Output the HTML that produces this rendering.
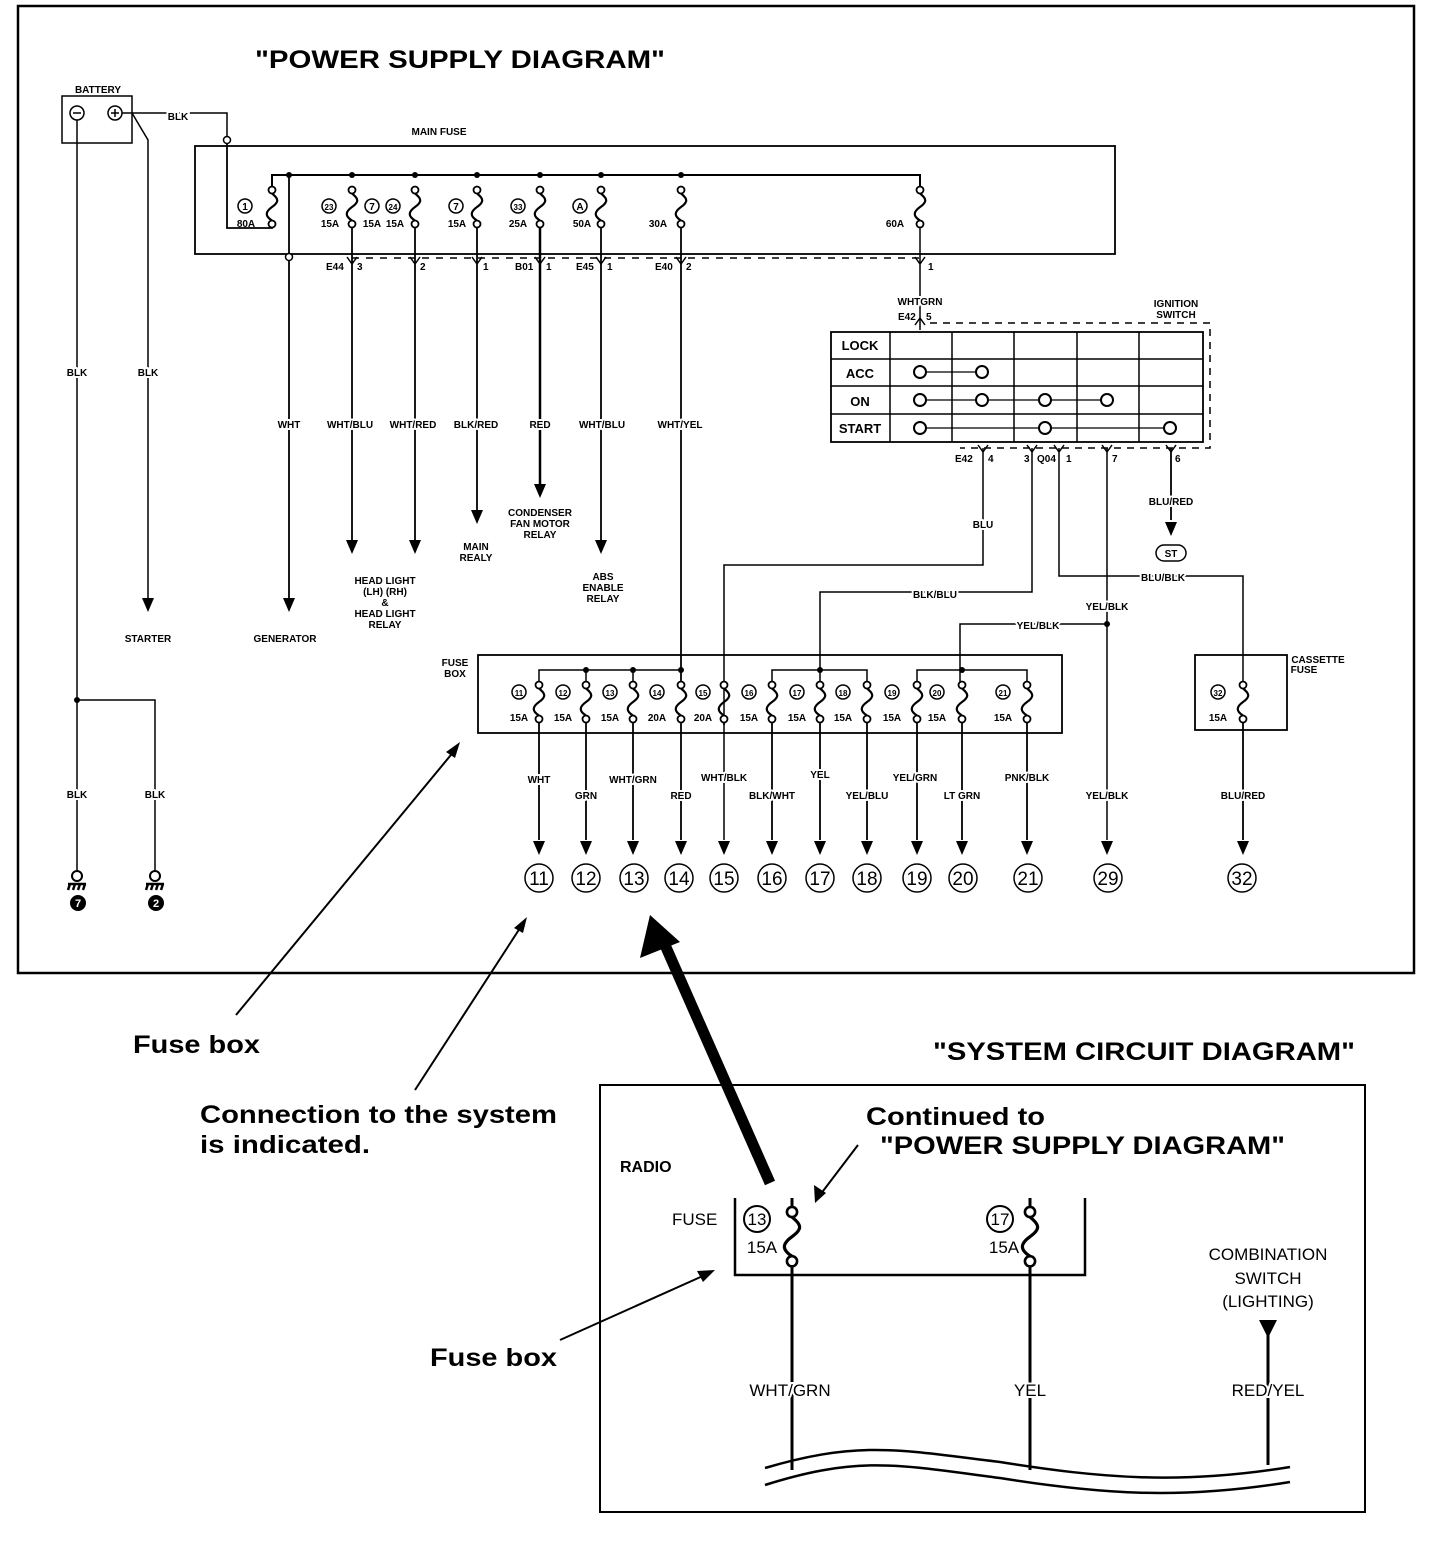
<!DOCTYPE html>
<html><head><meta charset="utf-8"><style>
html,body{margin:0;padding:0;background:#fff}
svg{display:block}
text{font-family:"Liberation Sans",Arial,sans-serif;fill:#000}
.s{font-size:10px;font-weight:bold}
.h text{stroke:#fff;stroke-width:4px;paint-order:stroke;stroke-linejoin:round}
.m{font-size:13px;font-weight:bold}
.b{font-size:25px;font-weight:bold}
.n{font-size:19px}
</style></head><body>
<svg width="1440" height="1566" viewBox="0 0 1440 1566" xmlns="http://www.w3.org/2000/svg">
<defs>
<g id="fz"><circle cx="0" cy="0" r="3.5" fill="#fff" stroke="#000" stroke-width="1.8"/><path d="M0,3.5 C7,9 7,12 0,17 C-7,22 -7,26 0,30.5" fill="none" stroke="#000" stroke-width="2.2"/><circle cx="0" cy="34" r="3.5" fill="#fff" stroke="#000" stroke-width="1.8"/></g>
<g id="ar"><path d="M-6,-14 L6,-14 L0,0 Z" fill="#000"/></g>
<g id="cn"><path d="M-5,-5 L0,2 L5,-5" fill="none" stroke="#000" stroke-width="1.5"/></g>
<g id="cu"><path d="M-5,5 L0,-2 L5,5" fill="none" stroke="#000" stroke-width="1.5"/></g>
</defs>
<g stroke="#000" fill="none">
<rect x="18" y="6" width="1396" height="967" stroke-width="2.5"/>
<rect x="62" y="96" width="70" height="47" stroke-width="1.5"/>
<circle cx="77" cy="113" r="7" stroke-width="1.5"/><circle cx="115" cy="113" r="7" stroke-width="1.5"/>
<path d="M73,113 H81 M111,113 H119 M115,109 V117" stroke-width="1.5"/>
<path d="M122,113 H227 V140" stroke-width="1.5"/>
<circle cx="227" cy="140" r="3.5" stroke-width="1.5" fill="#fff"/>
<path d="M227,144 V228 H272 V224" stroke-width="1.8"/>
<path d="M132,113 L148,140 V598" stroke-width="1.5"/>
<path d="M77,120 V870" stroke-width="1.5"/>
<path d="M77,700 H155 V870" stroke-width="1.5"/>
<rect x="195" y="146" width="920" height="108" stroke-width="1.8"/>
<path d="M272,190 V175 H920 V190" stroke-width="2"/>
<path d="M352,258 H920" stroke-width="1.5" stroke-dasharray="7,7"/>
<path d="M289,175 V253" stroke-width="1.8"/>
<circle cx="289" cy="257" r="3.5" fill="#fff" stroke-width="1.5"/>
<path d="M289,261 V598" stroke-width="1.8"/>
<path d="M352,224 V540" stroke-width="1.8"/>
<path d="M415,224 V540" stroke-width="1.8"/>
<path d="M477,224 V510" stroke-width="1.8"/>
<path d="M540,224 V484" stroke-width="2.5"/>
<path d="M601,224 V540" stroke-width="1.8"/>
<path d="M681,224 V685" stroke-width="1.8"/>
<path d="M920,224 V330" stroke-width="1.5"/>
<rect x="831" y="332" width="372" height="110" stroke-width="1.8"/>
<path d="M831,359 H1203 M831,386 H1203 M831,414 H1203 M890,332 V442 M952,332 V442 M1014,332 V442 M1077,332 V442 M1139,332 V442" stroke-width="1.5"/>
<path d="M930,323 H1210 V448 H960" stroke-width="1.5" stroke-dasharray="7,6"/>
<path d="M920,372 H982 M920,400 H1107 M920,428 H1170" stroke-width="1.3"/>
<path d="M983,448 V565 H724 V840" stroke-width="1.5"/>
<path d="M1032,448 V592 H820 V685" stroke-width="1.5"/>
<path d="M1059,448 V576 H1243 V685" stroke-width="1.5"/>
<path d="M1107,448 V840" stroke-width="1.5"/>
<path d="M1107,624 H960 V685" stroke-width="1.5"/>
<path d="M1171,448 V520" stroke-width="1.8"/>
<rect x="1156" y="545" width="30" height="16" rx="8" stroke-width="1.5"/>
<rect x="478" y="655" width="584" height="78" stroke-width="1.8"/>
<rect x="1195" y="655" width="92" height="75" stroke-width="1.8"/>
<path d="M539,685 V670 H681 M772,685 V670 H867 V685 M917,685 V670 H1027 V685 M586,670 V685 M633,670 V685" stroke-width="1.5"/>
<path d="M539,719 V840 M586,719 V840 M633,719 V840 M681,719 V840 M772,719 V840 M820,719 V840 M867,719 V840 M917,719 V840 M962,719 V840 M1027,719 V840 M1243,719 V840 M724,719 V725" stroke-width="1.8"/>
<rect x="600" y="1085" width="765" height="427" stroke-width="2"/>
<path d="M735,1198 V1275 H1085 V1198" stroke-width="2.5"/>
<path d="M792,1198 V1210 M792,1260 V1470 M1030,1198 V1210 M1030,1260 V1470 M1268,1335 V1465" stroke-width="3"/>
<path d="M765,1468 C860,1440 900,1450 1000,1462 C1100,1478 1180,1485 1290,1467" stroke-width="2.5"/>
<path d="M765,1485 C860,1455 900,1465 1000,1478 C1100,1494 1180,1500 1290,1482" stroke-width="2.5"/>
<path d="M236,1015 L455,750" stroke-width="2"/>
<path d="M415,1090 L522,925" stroke-width="2"/>
<path d="M770,1183 L665,945" stroke-width="11"/>
<path d="M858,1145 L820,1195" stroke-width="2"/>
<path d="M560,1340 L705,1275" stroke-width="2"/>
</g>
<g fill="#000">
<path d="M460,742 L446,752 L455,758 Z"/>
<path d="M527,917 L514,928 L523,933 Z"/>
<path d="M650,915 L640,958 L680,942 Z"/>
<path d="M815,1203 L814,1185 L826,1193 Z"/>
<path d="M715,1270 L697,1271 L703,1282 Z"/>
<path d="M1259,1320 L1277,1320 L1268,1338 Z"/>
<circle cx="289" cy="175" r="3"/><circle cx="352" cy="175" r="3"/><circle cx="415" cy="175" r="3"/><circle cx="477" cy="175" r="3"/><circle cx="540" cy="175" r="3"/><circle cx="601" cy="175" r="3"/><circle cx="681" cy="175" r="3"/>
<circle cx="77" cy="700" r="3"/><circle cx="586" cy="670" r="3"/><circle cx="633" cy="670" r="3"/><circle cx="681" cy="670" r="3"/><circle cx="820" cy="670" r="3"/><circle cx="962" cy="670" r="3"/><circle cx="1107" cy="624" r="3"/>
</g>
<use href="#ar" x="148" y="612"/><use href="#ar" x="289" y="612"/><use href="#ar" x="352" y="554"/><use href="#ar" x="415" y="554"/><use href="#ar" x="477" y="524"/><use href="#ar" x="540" y="498"/><use href="#ar" x="601" y="554"/><use href="#ar" x="1171" y="536"/>
<use href="#ar" x="539" y="855"/><use href="#ar" x="586" y="855"/><use href="#ar" x="633" y="855"/><use href="#ar" x="681" y="855"/><use href="#ar" x="724" y="855"/><use href="#ar" x="772" y="855"/><use href="#ar" x="820" y="855"/><use href="#ar" x="867" y="855"/><use href="#ar" x="917" y="855"/><use href="#ar" x="962" y="855"/><use href="#ar" x="1027" y="855"/><use href="#ar" x="1107" y="855"/><use href="#ar" x="1243" y="855"/>
<use href="#cn" x="352" y="262"/><use href="#cn" x="415" y="262"/><use href="#cn" x="477" y="262"/><use href="#cn" x="540" y="262"/><use href="#cn" x="601" y="262"/><use href="#cn" x="681" y="262"/><use href="#cn" x="920" y="262"/>
<use href="#cu" x="920" y="320"/><use href="#cn" x="983" y="450"/><use href="#cn" x="1032" y="450"/><use href="#cn" x="1059" y="450"/><use href="#cn" x="1107" y="450"/><use href="#cn" x="1171" y="450"/>
<use href="#fz" x="272" y="190"/><use href="#fz" x="352" y="190"/><use href="#fz" x="415" y="190"/><use href="#fz" x="477" y="190"/><use href="#fz" x="540" y="190"/><use href="#fz" x="601" y="190"/><use href="#fz" x="681" y="190"/><use href="#fz" x="920" y="190"/>
<use href="#fz" x="539" y="685"/><use href="#fz" x="586" y="685"/><use href="#fz" x="633" y="685"/><use href="#fz" x="681" y="685"/><use href="#fz" x="724" y="685"/><use href="#fz" x="772" y="685"/><use href="#fz" x="820" y="685"/><use href="#fz" x="867" y="685"/><use href="#fz" x="917" y="685"/><use href="#fz" x="962" y="685"/><use href="#fz" x="1027" y="685"/><use href="#fz" x="1243" y="685"/>
<g transform="translate(792,1212) scale(1.45)"><use href="#fz"/></g>
<g transform="translate(1030,1212) scale(1.45)"><use href="#fz"/></g>
<g fill="#fff" stroke="#000" stroke-width="2">
<circle cx="920" cy="372" r="6"/><circle cx="982" cy="372" r="6"/>
<circle cx="920" cy="400" r="6"/><circle cx="982" cy="400" r="6"/><circle cx="1045" cy="400" r="6"/><circle cx="1107" cy="400" r="6"/>
<circle cx="920" cy="428" r="6"/><circle cx="1045" cy="428" r="6"/><circle cx="1170" cy="428" r="6"/>
<circle cx="77" cy="876" r="5"/><circle cx="155" cy="876" r="5"/>
</g>
<g stroke="#000" stroke-width="2.5"><path d="M68,884 H86 M70,884 L68,890 M75,884 L73,890 M80,884 L78,890 M85,884 L83,890 M146,884 H164 M148,884 L146,890 M153,884 L151,890 M158,884 L156,890 M163,884 L161,890"/></g>
<circle cx="78" cy="903" r="8"/><circle cx="156" cy="903" r="8"/>
<text x="78" y="907" text-anchor="middle" style="font-size:11px;fill:#fff;font-weight:bold">7</text>
<text x="156" y="907" text-anchor="middle" style="font-size:11px;fill:#fff;font-weight:bold">2</text>
<g fill="none" stroke="#000" stroke-width="1.5">
<circle cx="245" cy="206" r="7"/><circle cx="329" cy="206" r="7"/><circle cx="372" cy="206" r="7"/><circle cx="393" cy="206" r="7"/><circle cx="456" cy="206" r="7"/><circle cx="518" cy="206" r="7"/><circle cx="580" cy="206" r="7"/>
<circle cx="519" cy="692" r="7"/><circle cx="563" cy="692" r="7"/><circle cx="610" cy="692" r="7"/><circle cx="657" cy="692" r="7"/><circle cx="703" cy="692" r="7"/><circle cx="749" cy="692" r="7"/><circle cx="797" cy="692" r="7"/><circle cx="843" cy="692" r="7"/><circle cx="892" cy="692" r="7"/><circle cx="937" cy="692" r="7"/><circle cx="1003" cy="692" r="7"/><circle cx="1218" cy="692" r="7"/>
<circle cx="539" cy="878" r="14"/><circle cx="586" cy="878" r="14"/><circle cx="634" cy="878" r="14"/><circle cx="679" cy="878" r="14"/><circle cx="724" cy="878" r="14"/><circle cx="772" cy="878" r="14"/><circle cx="820" cy="878" r="14"/><circle cx="867" cy="878" r="14"/><circle cx="917" cy="878" r="14"/><circle cx="963" cy="878" r="14"/><circle cx="1028" cy="878" r="14"/><circle cx="1108" cy="878" r="14"/><circle cx="1242" cy="878" r="14"/>
<circle cx="757" cy="1219" r="13" stroke-width="2"/><circle cx="1000" cy="1219" r="13" stroke-width="2"/>
</g>
<g class="s" text-anchor="middle">
<text x="245" y="210">1</text><text x="329" y="210" style="font-size:8px">23</text><text x="372" y="210">7</text><text x="393" y="210" style="font-size:8px">24</text><text x="456" y="210">7</text><text x="518" y="210" style="font-size:8px">33</text><text x="580" y="210">A</text>
<text x="246" y="227">80A</text><text x="330" y="227">15A</text><text x="372" y="227">15A</text><text x="395" y="227">15A</text><text x="457" y="227">15A</text><text x="518" y="227">25A</text><text x="582" y="227">50A</text><text x="658" y="227">30A</text><text x="895" y="227">60A</text>
<text x="519" y="696" style="font-size:8px">11</text><text x="563" y="696" style="font-size:8px">12</text><text x="610" y="696" style="font-size:8px">13</text><text x="657" y="696" style="font-size:8px">14</text><text x="703" y="696" style="font-size:8px">15</text><text x="749" y="696" style="font-size:8px">16</text><text x="797" y="696" style="font-size:8px">17</text><text x="843" y="696" style="font-size:8px">18</text><text x="892" y="696" style="font-size:8px">19</text><text x="937" y="696" style="font-size:8px">20</text><text x="1003" y="696" style="font-size:8px">21</text><text x="1218" y="696" style="font-size:8px">32</text>
<text x="519" y="721">15A</text><text x="563" y="721">15A</text><text x="610" y="721">15A</text><text x="657" y="721">20A</text><text x="703" y="721">20A</text><text x="749" y="721">15A</text><text x="797" y="721">15A</text><text x="843" y="721">15A</text><text x="892" y="721">15A</text><text x="937" y="721">15A</text><text x="1003" y="721">15A</text><text x="1218" y="721">15A</text>
<text x="98" y="93">BATTERY</text><text x="439" y="135">MAIN FUSE</text>
<text x="148" y="642">STARTER</text><text x="285" y="642">GENERATOR</text>
<text x="385" y="584">HEAD LIGHT</text><text x="385" y="595">(LH) (RH)</text><text x="385" y="606">&amp;</text><text x="385" y="617">HEAD LIGHT</text><text x="385" y="628">RELAY</text>
<text x="476" y="550">MAIN</text><text x="476" y="561">REALY</text>
<text x="540" y="516">CONDENSER</text><text x="540" y="527">FAN MOTOR</text><text x="540" y="538">RELAY</text>
<text x="603" y="580">ABS</text><text x="603" y="591">ENABLE</text><text x="603" y="602">RELAY</text>
<text x="1176" y="307">IGNITION</text><text x="1176" y="318">SWITCH</text><text x="1171" y="557">ST</text>
<text x="455" y="666">FUSE</text><text x="455" y="677">BOX</text><text x="1318" y="663">CASSETTE</text><text x="1304" y="673">FUSE</text>
</g>
<g class="s h" text-anchor="middle">
<text x="178" y="120">BLK</text>
<text x="77" y="376">BLK</text><text x="148" y="376">BLK</text><text x="77" y="798">BLK</text><text x="155" y="798">BLK</text>
<text x="289" y="428">WHT</text><text x="350" y="428">WHT/BLU</text><text x="413" y="428">WHT/RED</text><text x="476" y="428">BLK/RED</text><text x="540" y="428">RED</text><text x="602" y="428">WHT/BLU</text><text x="680" y="428">WHT/YEL</text>
<text x="920" y="305">WHTGRN</text>
<text x="983" y="528">BLU</text><text x="935" y="598">BLK/BLU</text><text x="1163" y="581">BLU/BLK</text><text x="1038" y="629">YEL/BLK</text><text x="1107" y="610">YEL/BLK</text><text x="1171" y="505">BLU/RED</text>
<text x="539" y="783">WHT</text><text x="586" y="799">GRN</text><text x="633" y="783">WHT/GRN</text><text x="681" y="799">RED</text><text x="724" y="781">WHT/BLK</text><text x="772" y="799">BLK/WHT</text><text x="820" y="778">YEL</text><text x="867" y="799">YEL/BLU</text><text x="915" y="781">YEL/GRN</text><text x="962" y="799">LT GRN</text><text x="1027" y="781">PNK/BLK</text><text x="1107" y="799">YEL/BLK</text><text x="1243" y="799">BLU/RED</text>
</g>
<g class="s">
<text x="326" y="270">E44</text><text x="357" y="270">3</text><text x="420" y="270">2</text><text x="483" y="270">1</text><text x="515" y="270">B01</text><text x="546" y="270">1</text><text x="576" y="270">E45</text><text x="607" y="270">1</text><text x="655" y="270">E40</text><text x="686" y="270">2</text><text x="928" y="270">1</text>
<text x="898" y="320">E42</text><text x="926" y="320">5</text><text x="955" y="462">E42</text><text x="988" y="462">4</text><text x="1024" y="462">3</text><text x="1037" y="462">Q04</text><text x="1066" y="462">1</text><text x="1112" y="462">7</text><text x="1175" y="462">6</text>
</g>
<g class="m" text-anchor="middle">
<text x="860" y="350">LOCK</text><text x="860" y="378">ACC</text><text x="860" y="406">ON</text><text x="860" y="433">START</text>
</g>
<g class="n" text-anchor="middle">
<text x="539" y="885">11</text><text x="586" y="885">12</text><text x="634" y="885">13</text><text x="679" y="885">14</text><text x="724" y="885">15</text><text x="772" y="885">16</text><text x="820" y="885">17</text><text x="867" y="885">18</text><text x="917" y="885">19</text><text x="963" y="885">20</text><text x="1028" y="885">21</text><text x="1108" y="885">29</text><text x="1242" y="885">32</text>
</g>
<text x="255" y="68" class="b" textLength="410" lengthAdjust="spacingAndGlyphs">"POWER SUPPLY DIAGRAM"</text>
<text x="133" y="1053" class="b" textLength="127" lengthAdjust="spacingAndGlyphs">Fuse box</text>
<text x="200" y="1123" class="b" textLength="357" lengthAdjust="spacingAndGlyphs">Connection to the system</text>
<text x="200" y="1153" class="b" textLength="170" lengthAdjust="spacingAndGlyphs">is indicated.</text>
<text x="933" y="1060" class="b" textLength="422" lengthAdjust="spacingAndGlyphs">"SYSTEM CIRCUIT DIAGRAM"</text>
<text x="866" y="1125" class="b" textLength="179" lengthAdjust="spacingAndGlyphs">Continued to</text>
<text x="880" y="1154" class="b" textLength="405" lengthAdjust="spacingAndGlyphs">"POWER SUPPLY DIAGRAM"</text>
<text x="430" y="1366" class="b" textLength="127" lengthAdjust="spacingAndGlyphs">Fuse box</text>
<g style="font-size:17px">
<text x="620" y="1172" style="font-size:16px;font-weight:bold">RADIO</text>
<text x="672" y="1225">FUSE</text>
<text x="757" y="1225" text-anchor="middle">13</text><text x="1000" y="1225" text-anchor="middle">17</text>
<text x="762" y="1253" text-anchor="middle">15A</text><text x="1004" y="1253" text-anchor="middle">15A</text>
<g class="h"><text x="790" y="1396" text-anchor="middle">WHT/GRN</text><text x="1030" y="1396" text-anchor="middle">YEL</text><text x="1268" y="1396" text-anchor="middle">RED/YEL</text></g>
<text x="1268" y="1260" text-anchor="middle">COMBINATION</text><text x="1268" y="1284" text-anchor="middle">SWITCH</text><text x="1268" y="1307" text-anchor="middle">(LIGHTING)</text>
</g>
</svg>
</body></html>
